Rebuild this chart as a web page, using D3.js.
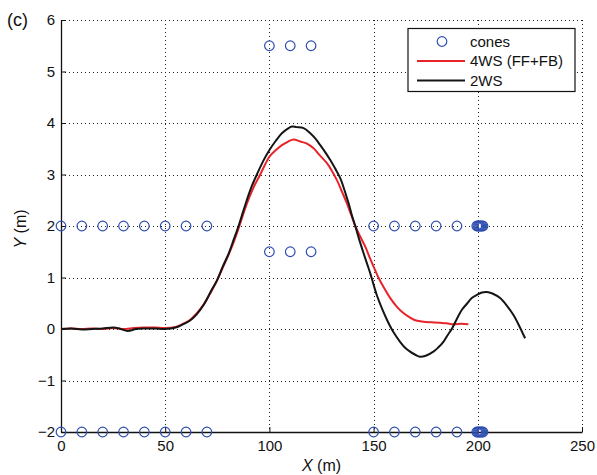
<!DOCTYPE html>
<html lang="en">
<head>
    <meta charset="UTF-8">
    <title>Trajectories</title>
    <style>
        body { margin: 0; background: #fff; }
        svg { display: block; font-family: "Liberation Sans", Arial, sans-serif; }
        .grid line { stroke: #222; stroke-width: 1; stroke-dasharray: 1,3; }
        .tick-label { font-size: 15px; fill: #111; }
        .axis-label { font-size: 16px; fill: #111; }
        .legend-label { font-size: 15px; fill: #111; }
        .trace { fill: none; stroke-width: 2; stroke-linejoin: round; }
        .cone { fill: none; stroke: #2f4fb0; stroke-width: 1.2; }
    </style>
</head>
<body>
    <svg width="597" height="475"></svg>
    <script src="https://d3js.org/d3.v7.min.js"></script>
    <script>
        // tick values
        const xTicks = [0, 50, 100, 150, 200, 250];
        const yTicks = [-2, -1, 0, 1, 2, 3, 4, 5, 6];

        // cone positions
        const coneX = [0, 10, 20, 30, 40, 50, 60, 70, 150, 160, 170, 180, 190, 199.5, 200, 200.5, 201, 201.5, 202, 202.5,
                       0, 10, 20, 30, 40, 50, 60, 70, 150, 160, 170, 180, 190, 199.5, 200, 200.5, 201, 201.5, 202, 202.5,
                       100, 110, 120, 100, 110, 120];
        const coneY = [-2, -2, -2, -2, -2, -2, -2, -2, -2, -2, -2, -2, -2, -2, -2, -2, -2, -2, -2, -2,
                       2, 2, 2, 2, 2, 2, 2, 2, 2, 2, 2, 2, 2, 2, 2, 2, 2, 2, 2, 2,
                       5.5, 5.5, 5.5, 1.5, 1.5, 1.5];

        // 4WS (FF+FB) trajectory
        const ws4X = [0, 5, 10, 15, 20, 25, 30, 35, 40, 45, 50, 55, 58, 62, 65, 68.5, 72, 75, 77.5, 80.5, 83, 85.6,
                      88, 90.5, 93, 95.6, 98, 100.1, 103, 106, 109, 111.6, 114.8, 118, 121.2, 124, 127.6, 130, 132.4,
                      135, 137.2, 139.2, 141.2, 143.5, 146, 148, 150, 152.3, 154.7, 158, 161.2, 164, 167.5, 170,
                      173.9, 178, 181.9, 185, 188.3, 192, 195.5];
        const ws4Y = [0, 0.01, 0, 0.01, 0, 0.02, 0, 0.02, 0.03, 0.03, 0.02, 0.04, 0.09, 0.18, 0.3, 0.48, 0.72, 0.95,
                      1.18, 1.45, 1.7, 2.0, 2.3, 2.57, 2.8, 3.0, 3.2, 3.35, 3.47, 3.57, 3.64, 3.68, 3.64, 3.6, 3.51,
                      3.38, 3.22, 3.07, 2.89, 2.65, 2.44, 2.22, 2.0, 1.8, 1.6, 1.4, 1.21, 1.0, 0.82, 0.6, 0.43, 0.32,
                      0.22, 0.17, 0.14, 0.13, 0.12, 0.11, 0.09, 0.1, 0.09];

        // 2WS trajectory
        const ws2X = [0, 5, 10, 15, 20, 25, 28, 32, 36, 40, 45, 50, 55, 58, 62.1, 65, 68.5, 71.5, 74.9, 77.5, 80.5,
                      83, 85.2, 87.3, 89.3, 91.5, 94, 97, 100.1, 103, 106, 108.5, 110.8, 113, 116.4, 119.6, 122,
                      124.4, 127, 129.2, 131.5, 134, 136, 138, 139.5, 141.2, 143, 145.2, 147, 148.4, 150, 151.6, 154,
                      156.4, 158, 159.5, 162.7, 165, 167.5, 170, 172.3, 175, 178.7, 181, 183.5, 185.5, 187.5, 190,
                      192.3, 195, 197.1, 200, 202, 204.3, 207, 210.7, 214, 217.1, 220, 222.7];
        const ws2Y = [0, 0.01, -0.01, 0, 0.01, 0.03, 0.01, -0.04, 0, 0.01, 0.01, 0, 0.03, 0.08, 0.17, 0.28, 0.47, 0.7,
                      0.95, 1.2, 1.47, 1.75, 2.0, 2.27, 2.52, 2.77, 3.0, 3.26, 3.48, 3.65, 3.8, 3.88, 3.93, 3.92, 3.9,
                      3.8, 3.7, 3.57, 3.42, 3.28, 3.12, 2.93, 2.7, 2.44, 2.22, 2.0, 1.75, 1.47, 1.25, 1.08, 0.86,
                      0.65, 0.4, 0.18, 0.05, -0.06, -0.25, -0.36, -0.44, -0.5, -0.54, -0.52, -0.44, -0.36, -0.25,
                      -0.12, 0, 0.2, 0.37, 0.5, 0.6, 0.67, 0.71, 0.72, 0.69, 0.6, 0.45, 0.27, 0.05, -0.18];

        const svg = d3.select("svg"),
            margin = {top: 20, right: 15, bottom: 43, left: 61},
            width = +svg.attr("width") - margin.left - margin.right,
            height = +svg.attr("height") - margin.top - margin.bottom,
            g = svg.append("g").attr("transform", `translate(${margin.left},${margin.top})`);

        const x = d3.scaleLinear().domain([0, 250]).range([0, width]);
        const y = d3.scaleLinear().domain([-2, 6]).range([height, 0]);

        const fmt = v => v < 0 ? "\u2212" + Math.abs(v) : String(v);

        // dotted grid
        const grid = g.append("g").attr("class", "grid");
        grid.selectAll(".gx").data(xTicks.filter(d => d > 0)).enter().append("line")
            .attr("x1", d => Math.round(x(d)) + 0.5).attr("x2", d => Math.round(x(d)) + 0.5)
            .attr("y1", 0).attr("y2", height);
        grid.selectAll(".gy").data(yTicks.filter(d => d > -2)).enter().append("line")
            .attr("x1", 0).attr("x2", width)
            .attr("y1", d => Math.round(y(d)) + 0.5).attr("y2", d => Math.round(y(d)) + 0.5);

        // axes (left and bottom only, ticks inward)
        const xAxis = g.append("g").attr("transform", `translate(0,${height})`)
            .call(d3.axisBottom(x).tickValues(xTicks).tickSizeInner(-5).tickSizeOuter(0).tickPadding(8).tickFormat(fmt));
        const yAxis = g.append("g")
            .call(d3.axisLeft(y).tickValues(yTicks).tickSizeInner(-5).tickSizeOuter(0).tickPadding(6).tickFormat(fmt));
        [xAxis, yAxis].forEach(a => {
            a.select(".domain").attr("stroke", "#111").attr("stroke-width", 1.3);
            a.selectAll(".tick line").attr("stroke", "#111");
            a.selectAll("text").attr("class", "tick-label").attr("font-family", null).attr("font-size", null).attr("fill", "#111");
        });

        // cones
        const cones = coneX.map((cx, i) => ({x: cx, y: coneY[i]}));
        g.selectAll(".cone").data(cones).enter().append("circle")
            .attr("class", "cone")
            .attr("cx", d => x(d.x))
            .attr("cy", d => y(d.y))
            .attr("r", 4.8);

        const line = d3.line()
            .x(d => x(d[0]))
            .y(d => y(d[1]))
            .curve(d3.curveCatmullRom);

        g.append("path")
            .datum(ws4X.map((v, i) => [v, ws4Y[i]]))
            .attr("class", "trace")
            .attr("stroke", "#e8242a")
            .attr("d", line);

        g.append("path")
            .datum(ws2X.map((v, i) => [v, ws2Y[i]]))
            .attr("class", "trace")
            .attr("stroke", "#151515")
            .attr("d", line);

        // labels
        svg.append("text")
            .attr("x", 7).attr("y", 26)
            .style("font-size", "18px").attr("fill", "#111")
            .text("(c)");

        const xl = svg.append("text")
            .attr("class", "axis-label")
            .attr("x", margin.left + width / 2).attr("y", 471)
            .attr("text-anchor", "middle");
        xl.append("tspan").style("font-style", "italic").text("X");
        xl.append("tspan").text(" (m)");

        const yl = svg.append("text")
            .attr("class", "axis-label")
            .attr("transform", `translate(26,${margin.top + height / 2 + 3}) rotate(-90)`)
            .attr("text-anchor", "middle");
        yl.append("tspan").style("font-style", "italic").text("Y");
        yl.append("tspan").text(" (m)");

        // legend
        const legendItems = ["cones", "4WS (FF+FB)", "2WS"];
        const legendColors = ["#2f4fb0", "#e8242a", "#151515"];
        const lg = svg.append("g").attr("transform", "translate(408,28.5)");
        lg.append("rect")
            .attr("width", 167).attr("height", 63)
            .attr("fill", "#fff").attr("stroke", "#111").attr("stroke-width", 1.2);
        const item = lg.selectAll(".legend").data(legendItems).enter().append("g")
            .attr("class", "legend")
            .attr("transform", (d, i) => `translate(0,${13 + i * 19.5})`);
        item.filter((d, i) => i === 0).append("circle")
            .attr("class", "cone").attr("cx", 34).attr("cy", 0).attr("r", 4.8);
        item.filter((d, i) => i > 0).append("line")
            .attr("x1", 9).attr("x2", 57).attr("y1", 0).attr("y2", 0)
            .attr("stroke", (d, i) => legendColors[i + 1]).attr("stroke-width", 2);
        item.append("text")
            .attr("class", "legend-label")
            .attr("x", 62).attr("dy", "0.35em")
            .text(d => d);
    </script>
</body>
</html>
